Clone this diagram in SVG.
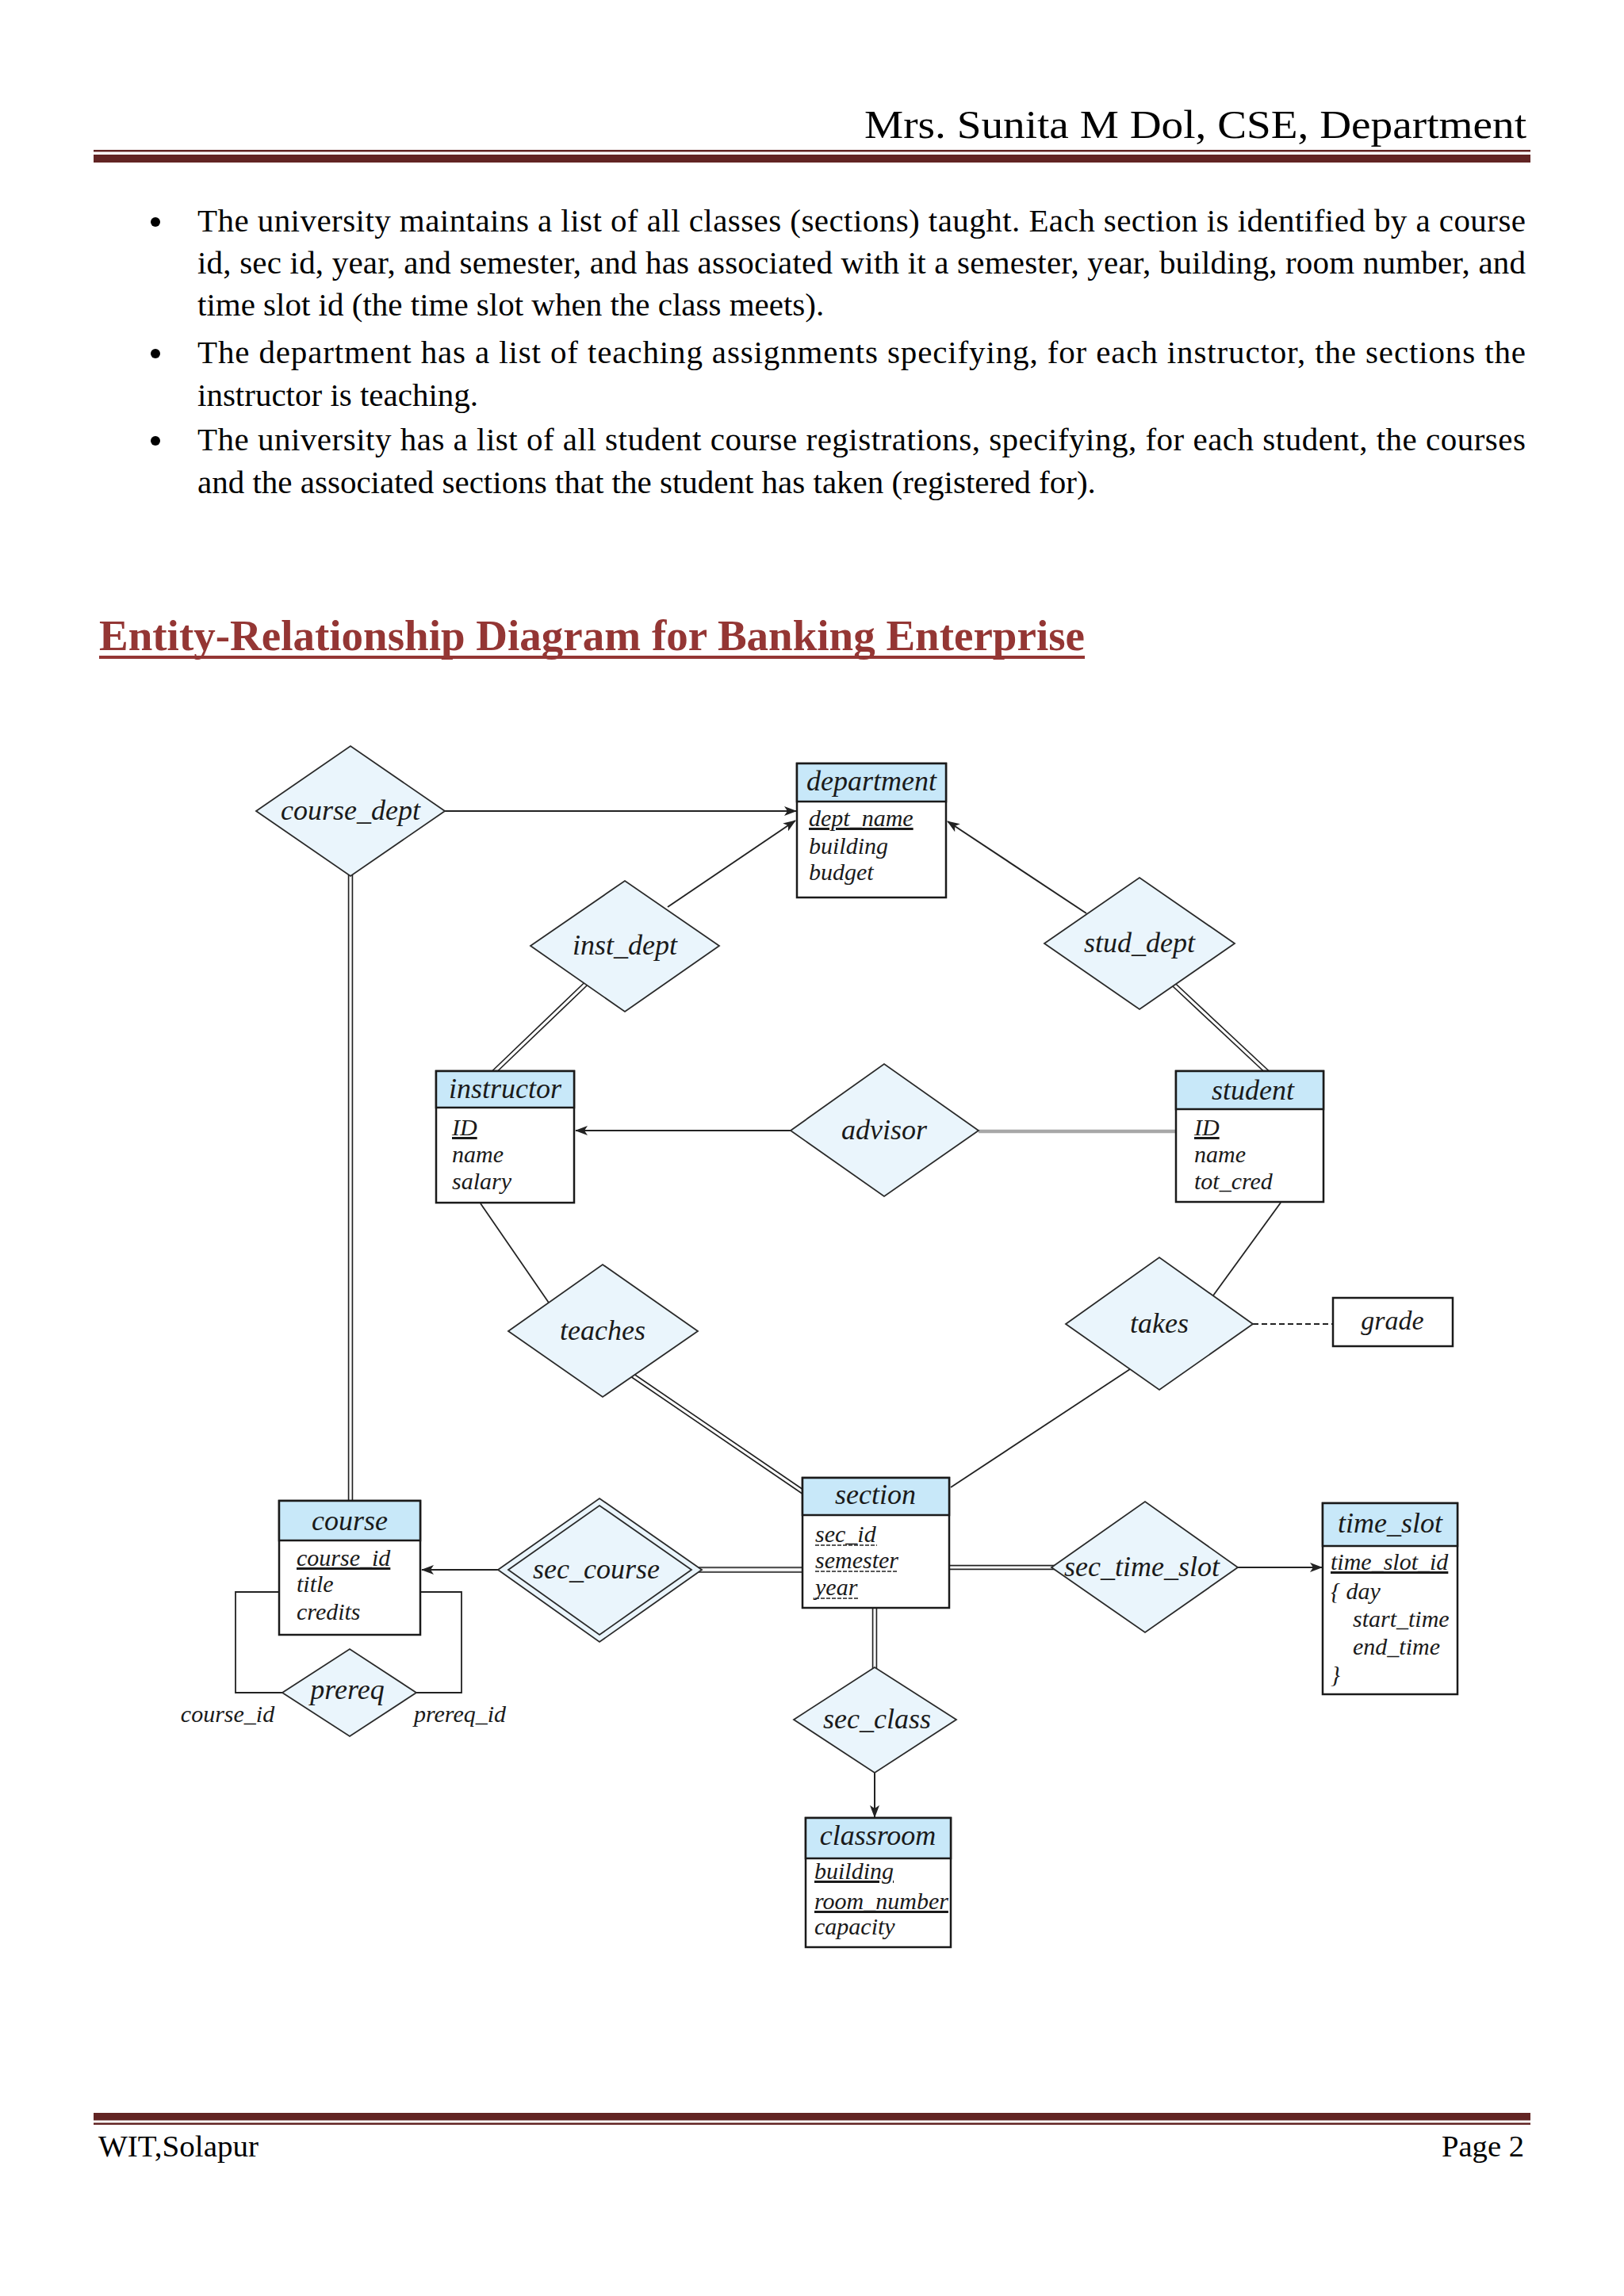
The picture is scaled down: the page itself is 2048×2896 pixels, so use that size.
<svg xmlns="http://www.w3.org/2000/svg" width="2048" height="2896" viewBox="0 0 2048 2896">
<style>
.hdr{font-family:"Liberation Serif","DejaVu Serif",serif;fill:#000}
.body{font-family:"Liberation Serif","Times New Roman",serif;font-size:41px;fill:#000}
.title{font-family:"Liberation Serif","Times New Roman",serif;font-size:54px;font-weight:bold;fill:#943634}
.er{font-family:"Liberation Serif","DejaVu Serif",serif;font-style:italic;fill:#1a1a1a}
.lbl{font-size:36px;text-anchor:middle}
.ehd{font-size:36px;text-anchor:middle}
.att{font-size:30px}
.ul{text-decoration:underline}
.ent{fill:#fff;stroke:#1a1a1a;stroke-width:2.5}
.enth{fill:#c8e8f9;stroke:#1a1a1a;stroke-width:2.5}
.dia{fill:#eaf5fc;stroke:#2a2a2a;stroke-width:1.8}
.ln{fill:none;stroke:#222;stroke-width:1.8}
.arr{fill:none;stroke:#222;stroke-width:2;marker-end:url(#ah)}
.dblo{fill:none;stroke:#222;stroke-width:6.5}
.dbli{fill:none;stroke:#fff;stroke-width:3.2}
.dash{fill:none;stroke:#222;stroke-width:2;stroke-dasharray:7 4}
.dul{stroke:#222;stroke-width:1.6;stroke-dasharray:5 2}
</style>
<defs>
<marker id="ah" viewBox="0 0 16 12" refX="15" refY="6" markerWidth="16" markerHeight="12" markerUnits="userSpaceOnUse" orient="auto">
<path d="M0,0 L16,6 L0,12 L4,6 z" fill="#222"/>
</marker>
</defs>
<rect width="2048" height="2896" fill="#fff"/>

<!-- page header -->
<text class="hdr" x="1925" y="174" font-size="50" text-anchor="end" textLength="835" lengthAdjust="spacingAndGlyphs">Mrs. Sunita M Dol, CSE, Department</text>
<rect x="118" y="189" width="1812" height="2.5" fill="#622423"/>
<rect x="118" y="195" width="1812" height="10" fill="#622423"/>

<!-- bullets -->
<g class="body">
<circle cx="196" cy="280" r="6" fill="#000"/>
<text x="249" y="292" textLength="1675" lengthAdjust="spacing">The university maintains a list of all classes (sections) taught. Each section is identified by a course</text>
<text x="249" y="345" textLength="1675" lengthAdjust="spacing">id, sec id, year, and semester, and has associated with it a semester, year, building, room number, and</text>
<text x="249" y="398">time slot id (the time slot when the class meets).</text>
<circle cx="196" cy="446" r="6" fill="#000"/>
<text x="249" y="458" textLength="1675" lengthAdjust="spacing">The department has a list of teaching assignments specifying, for each instructor, the sections the</text>
<text x="249" y="512">instructor is teaching.</text>
<circle cx="196" cy="556" r="6" fill="#000"/>
<text x="249" y="568" textLength="1675" lengthAdjust="spacing">The university has a list of all student course registrations, specifying, for each student, the courses</text>
<text x="249" y="622">and the associated sections that the student has taken (registered for).</text>
</g>

<!-- title -->
<text class="title" x="125" y="820" textLength="1243" lengthAdjust="spacingAndGlyphs">Entity-Relationship Diagram for Banking Enterprise</text>
<rect x="125" y="827" width="1243" height="4" fill="#943634"/>

<!-- connectors -->
<g id="connectors">
<line class="arr" x1="561" y1="1023" x2="1004" y2="1023"/>
<line class="arr" x1="842" y1="1144" x2="1003" y2="1035"/>
<line class="arr" x1="1370" y1="1152" x2="1195" y2="1036"/>
<path class="dblo" d="M745,1235 L622,1353"/>
<path class="dbli" d="M745,1235 L622,1353"/>
<path class="dblo" d="M1475,1237 L1599,1353"/>
<path class="dbli" d="M1475,1237 L1599,1353"/>
<line class="arr" x1="997" y1="1426" x2="726" y2="1426"/>
<line x1="1234" y1="1427" x2="1483" y2="1427" stroke="#a8a8a8" stroke-width="4.5"/>
<line class="ln" x1="606" y1="1518" x2="694" y2="1646"/>
<path class="dblo" d="M792,1731 L1016,1884"/>
<path class="dbli" d="M792,1731 L1016,1884"/>
<line class="ln" x1="1615" y1="1517" x2="1530" y2="1634"/>
<line class="ln" x1="1428" y1="1725" x2="1199" y2="1876"/>
<line class="dash" x1="1580" y1="1670" x2="1681" y2="1670"/>
<path class="dblo" d="M442,1100 L442,1895"/>
<path class="dbli" d="M442,1100 L442,1895"/>
<line class="arr" x1="628" y1="1980" x2="532" y2="1980"/>
<path d="M880,1980 L1014,1980" fill="none" stroke="#555" stroke-width="8"/>
<path d="M880,1980 L1014,1980" fill="none" stroke="#fff" stroke-width="3.5"/>
<path class="dblo" d="M1195,1977 L1330,1977"/>
<path class="dbli" d="M1195,1977 L1330,1977"/>
<line class="arr" x1="1561" y1="1977" x2="1667" y2="1977"/>
<path class="dblo" d="M1103,2026 L1103,2106"/>
<path class="dbli" d="M1103,2026 L1103,2106"/>
<line class="arr" x1="1103" y1="2236" x2="1103" y2="2292"/>
<polyline class="ln" points="356,2135 297,2135 297,2008 352,2008"/>
<polyline class="ln" points="525,2135 582,2135 582,2008 530,2008"/>
</g>

<!-- relationship nodes -->
<g id="course_dept"><polygon class="dia" points="323,1023 442,941 561,1023 442,1105"/><text class="er lbl" x="442" y="1034">course_dept</text></g>
<g id="inst_dept"><polygon class="dia" points="669,1193 788,1111 907,1193 788,1276"/><text class="er lbl" x="788" y="1204">inst_dept</text></g>
<g id="stud_dept"><polygon class="dia" points="1317,1190 1437,1107 1557,1190 1437,1273"/><text class="er lbl" x="1437" y="1201">stud_dept</text></g>
<g id="advisor"><polygon class="dia" points="997,1426 1115,1342 1234,1426 1115,1509"/><text class="er lbl" x="1115" y="1437">advisor</text></g>
<g id="teaches"><polygon class="dia" points="641,1679 760,1595 880,1679 760,1762"/><text class="er lbl" x="760" y="1690">teaches</text></g>
<g id="takes"><polygon class="dia" points="1344,1670 1462,1586 1580,1670 1462,1753"/><text class="er lbl" x="1462" y="1681">takes</text></g>
<g id="sec_course"><polygon class="dia" points="628,1980 756,1890 885,1980 756,2071"/><polygon class="dia" points="641,1980 756,1899 872,1980 756,2062"/><text class="er lbl" x="752" y="1991">sec_course</text></g>
<g id="sec_time_slot"><polygon class="dia" points="1326,1977 1444,1894 1561,1977 1444,2059"/><text class="er lbl" x="1440" y="1988">sec_time_slot</text></g>
<g id="sec_class"><polygon class="dia" points="1001,2169 1103,2103 1206,2169 1103,2236"/><text class="er lbl" x="1106" y="2180">sec_class</text></g>
<g id="prereq"><polygon class="dia" points="356,2135 441,2080 525,2135 441,2190"/><text class="er lbl" x="438" y="2143">prereq</text></g>

<!-- entity nodes -->
<g id="department">
<rect class="ent" x="1005" y="963" width="188" height="169"/>
<rect class="enth" x="1005" y="963" width="188" height="48"/>
<text class="er ehd" x="1099" y="997">department</text>
<text class="er att ul" x="1020" y="1042">dept_name</text>
<text class="er att" x="1020" y="1077">building</text>
<text class="er att" x="1020" y="1110">budget</text>
</g>
<g id="instructor">
<rect class="ent" x="550" y="1351" width="174" height="166"/>
<rect class="enth" x="550" y="1351" width="174" height="46"/>
<text class="er ehd" x="637" y="1385">instructor</text>
<text class="er att ul" x="570" y="1432">ID</text>
<text class="er att" x="570" y="1466">name</text>
<text class="er att" x="570" y="1500">salary</text>
</g>
<g id="student">
<rect class="ent" x="1483" y="1351" width="186" height="165"/>
<rect class="enth" x="1483" y="1351" width="186" height="48"/>
<text class="er ehd" x="1580" y="1387">student</text>
<text class="er att ul" x="1506" y="1432">ID</text>
<text class="er att" x="1506" y="1466">name</text>
<text class="er att" x="1506" y="1500">tot_cred</text>
</g>
<g id="grade">
<rect class="ent" x="1681" y="1637" width="151" height="61"/>
<text class="er" x="1756" y="1677" font-size="34" text-anchor="middle">grade</text>
</g>
<g id="section">
<rect class="ent" x="1012" y="1864" width="185" height="164"/>
<rect class="enth" x="1012" y="1864" width="185" height="47"/>
<text class="er ehd" x="1104" y="1897">section</text>
<text class="er att" x="1028" y="1945">sec_id</text>
<line class="dul" x1="1028" y1="1949" x2="1106" y2="1949"/>
<text class="er att" x="1028" y="1978">semester</text>
<line class="dul" x1="1028" y1="1982" x2="1131" y2="1982"/>
<text class="er att" x="1028" y="2012">year</text>
<line class="dul" x1="1028" y1="2016" x2="1082" y2="2016"/>
</g>
<g id="course">
<rect class="ent" x="352" y="1893" width="178" height="169"/>
<rect class="enth" x="352" y="1893" width="178" height="50"/>
<text class="er ehd" x="441" y="1930">course</text>
<text class="er att ul" x="374" y="1975">course_id</text>
<text class="er att" x="374" y="2008">title</text>
<text class="er att" x="374" y="2043">credits</text>
</g>
<g id="time_slot">
<rect class="ent" x="1668" y="1896" width="170" height="241"/>
<rect class="enth" x="1668" y="1896" width="170" height="54"/>
<text class="er ehd" x="1753" y="1933">time_slot</text>
<text class="er att ul" x="1678" y="1980">time_slot_id</text>
<text class="er att" x="1678" y="2017">{  day</text>
<text class="er att" x="1706" y="2052">start_time</text>
<text class="er att" x="1706" y="2087">end_time</text>
<text class="er att" x="1678" y="2122">}</text>
</g>
<g id="classroom">
<rect class="ent" x="1016" y="2293" width="183" height="163"/>
<rect class="enth" x="1016" y="2293" width="183" height="51"/>
<text class="er ehd" x="1107" y="2327">classroom</text>
<text class="er att ul" x="1027" y="2370">building</text>
<text class="er att ul" x="1027" y="2408">room_number</text>
<text class="er att" x="1027" y="2440">capacity</text>
</g>

<!-- role labels -->
<text class="er att" x="287" y="2172" text-anchor="middle">course_id</text>
<text class="er att" x="580" y="2172" text-anchor="middle">prereq_id</text>

<!-- footer -->
<rect x="118" y="2665" width="1812" height="9.5" fill="#622423"/>
<rect x="118" y="2677.5" width="1812" height="2.5" fill="#622423"/>
<text class="hdr" x="124" y="2720" font-size="38" textLength="202" lengthAdjust="spacingAndGlyphs">WIT,Solapur</text>
<text class="hdr" x="1922" y="2720" font-size="38" text-anchor="end" textLength="104" lengthAdjust="spacingAndGlyphs">Page 2</text>
</svg>
